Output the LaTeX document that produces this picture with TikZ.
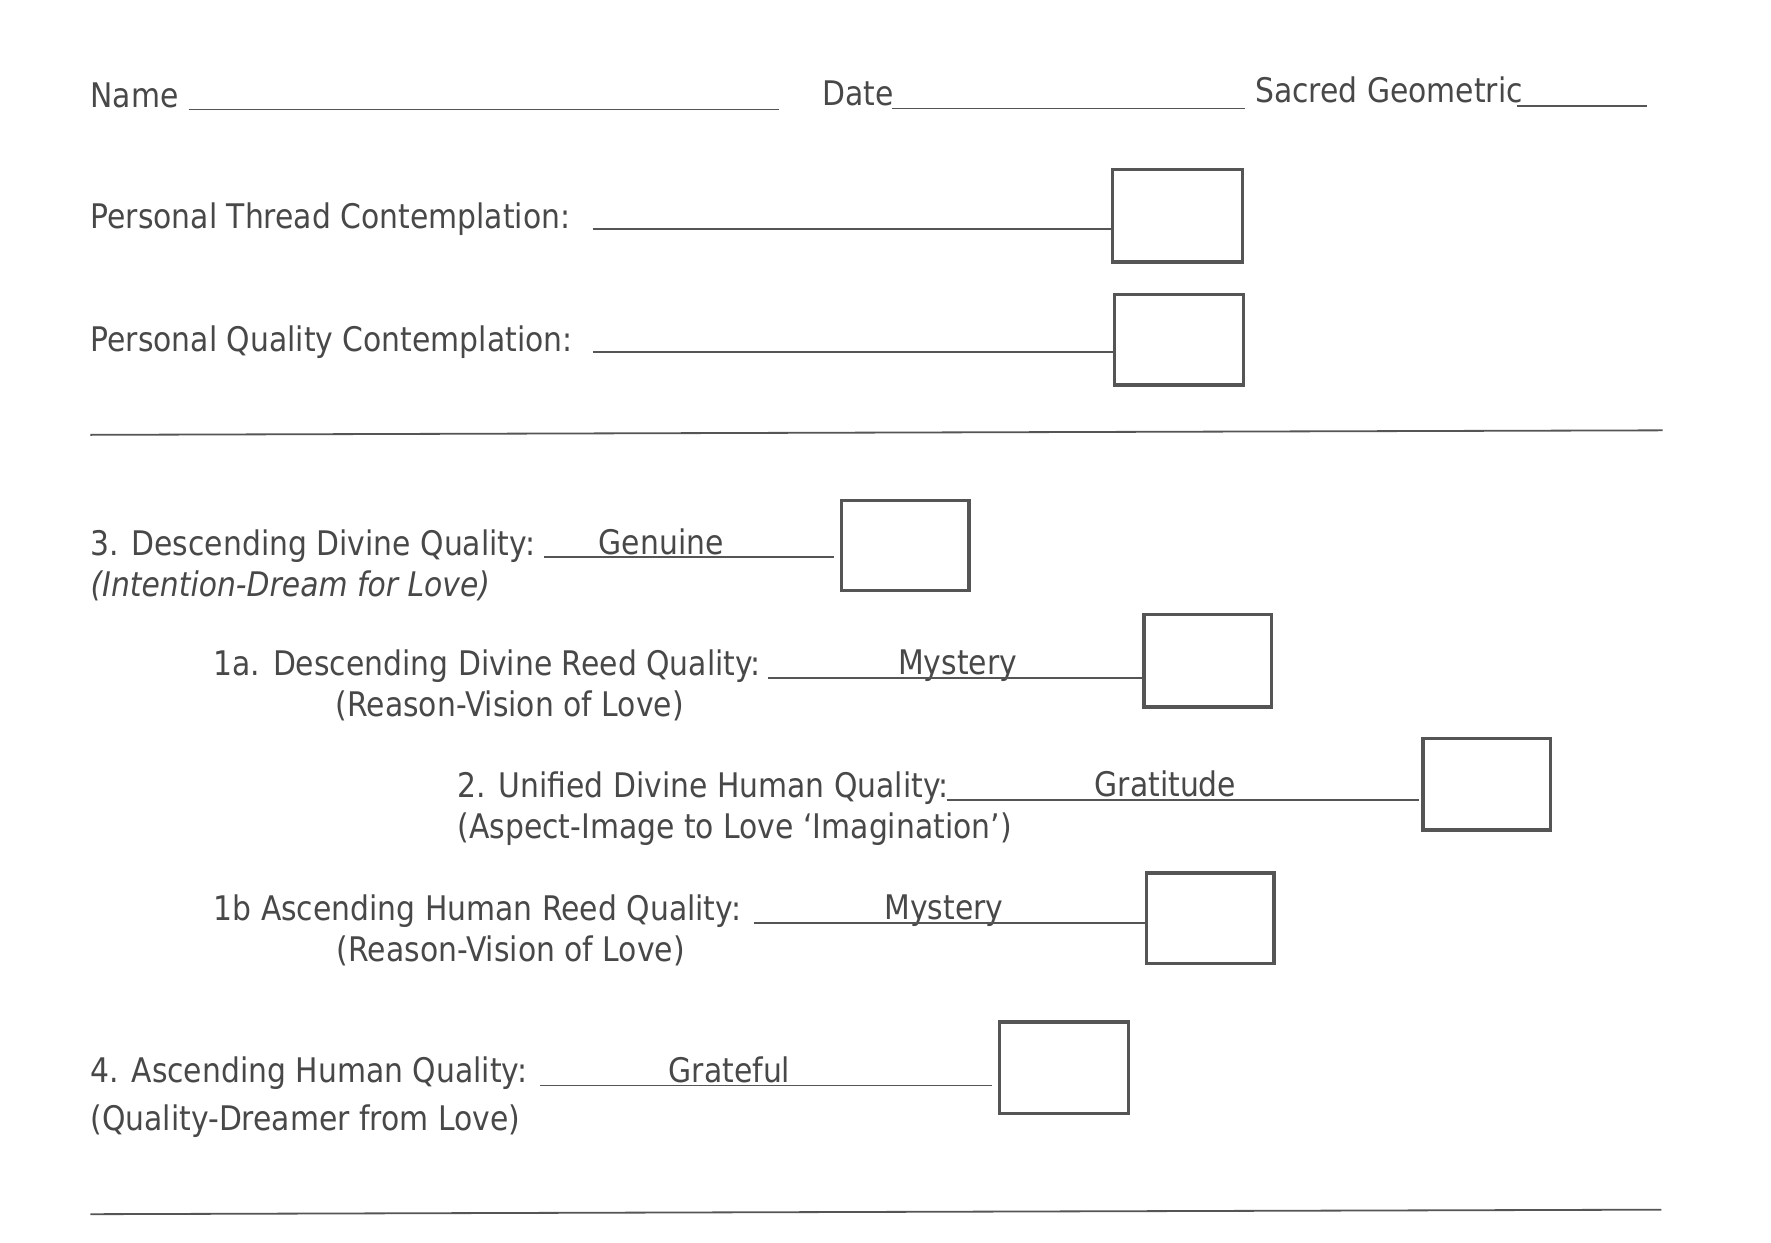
\documentclass[tikz,border=0pt]{standalone}
\usepackage{fontspec}
\setmainfont[FakeStretch=0.88]{DejaVu Sans}
\definecolor{ink}{RGB}{72,72,72}
\definecolor{rule}{RGB}{85,85,85}
\begin{document}
\begin{tikzpicture}[x=1pt,y=-1pt,
  lbl/.style={anchor=base west,inner sep=0pt,text=ink,font=\fontsize{30}{36}\selectfont},
  blank/.style={draw=rule,line width=1.6pt},
  tick/.style={draw=rule,line width=3pt,minimum width=113pt,minimum height=81pt,inner sep=0pt}]
\useasboundingbox[fill=white] (0,0) rectangle (1568,1100.5);
% header
\node[lbl] (name) at (80,95) {Name};
\node[lbl] (date) at (728,93) {Date};
\node[lbl] (sacred) at (1111,91) {Sacred Geometric};
\coordinate (n1) at (167,97); \coordinate (n2) at (690,97);
\coordinate (d1) at (790,96); \coordinate (d2) at (1102,96);
\coordinate (s1) at (1343,94); \coordinate (s2) at (1458,94);
\draw[blank] (n1) -- (n2);
\draw[blank] (d1) -- (d2);
\draw[blank] (s1) -- (s2);
% personal
\node[lbl] (pt) at (80,202) {Personal Thread Contemplation:};
\node[tick,minimum width=115pt,minimum height=82pt] (b1) at (1042.5,191) {};
\coordinate (pt1) at (525,203);
\draw[blank] (pt1) -- (pt1 -| b1.west);
\node[lbl] (pq) at (80,311) {Personal Quality Contemplation:};
\node[tick,minimum width=114pt,minimum height=80pt] (b2) at (1044,301) {};
\coordinate (pq1) at (525,312);
\draw[blank] (pq1) -- (pq1 -| b2.west);
% rule
\coordinate (r1) at (80,385); \coordinate (r2) at (1472,381);
\draw[blank] (r1) -- (r2);
% 3
\node[lbl] (q3) at (80,492) {3. Descending Divine Quality:};
\node[lbl] (q3b) at (80,528) {\itshape (Intention-Dream for Love)};
\node[lbl] (genuine) at (530,491) {Genuine};
\node[tick,minimum height=80pt] (b3) at (801.5,483) {};
\coordinate (q31) at (482,493); \coordinate (q32) at (738,493);
\draw[blank] (q31) -- (q32);
% 1a
\node[lbl] (q1a) at (189,598) {1a. Descending Divine Reed Quality:};
\node[lbl] (q1ab) at (297,634) {(Reason-Vision of Love)};
\node[lbl] (myst1) at (795,597) {Mystery};
\node[tick,minimum height=82pt] (b4) at (1069.5,585) {};
\coordinate (q1a1) at (680,600);
\draw[blank] (q1a1) -- (q1a1 -| b4.west);
% 2
\node[lbl] (q2) at (405,706) {2. Unified Divine Human Quality:};
\node[lbl] (q2b) at (405,742) {(Aspect-Image to Love ‘Imagination’)};
\node[lbl] (grat) at (969,705) {Gratitude};
\node[tick] (b5) at (1316.5,694.5) {};
\coordinate (q21) at (838,708); \coordinate (q22) at (1256,708);
\draw[blank] (q21) -- (q22);
% 1b
\node[lbl] (q1b) at (189,815) {1b Ascending Human Reed Quality:};
\node[lbl] (q1bb) at (298,851) {(Reason-Vision of Love)};
\node[lbl] (myst2) at (783,814) {Mystery};
\node[tick,minimum height=80pt] (b6) at (1071.5,813) {};
\coordinate (q1b1) at (668,817);
\draw[blank] (q1b1) -- (q1b1 -| b6.west);
% 4
\node[lbl] (q4) at (80,958) {4. Ascending Human Quality:};
\node[lbl] (q4b) at (80,1001) {(Quality-Dreamer from Love)};
\node[lbl] (gratef) at (592,958) {Grateful};
\node[tick,minimum width=114pt] (b7) at (942,945.5) {};
\coordinate (q41) at (478,961); \coordinate (q42) at (878,961);
\draw[blank] (q41) -- (q42);
% bottom rule
\coordinate (r3) at (80,1075); \coordinate (r4) at (1471,1071);
\draw[blank] (r3) -- (r4);
\end{tikzpicture}
\end{document}
